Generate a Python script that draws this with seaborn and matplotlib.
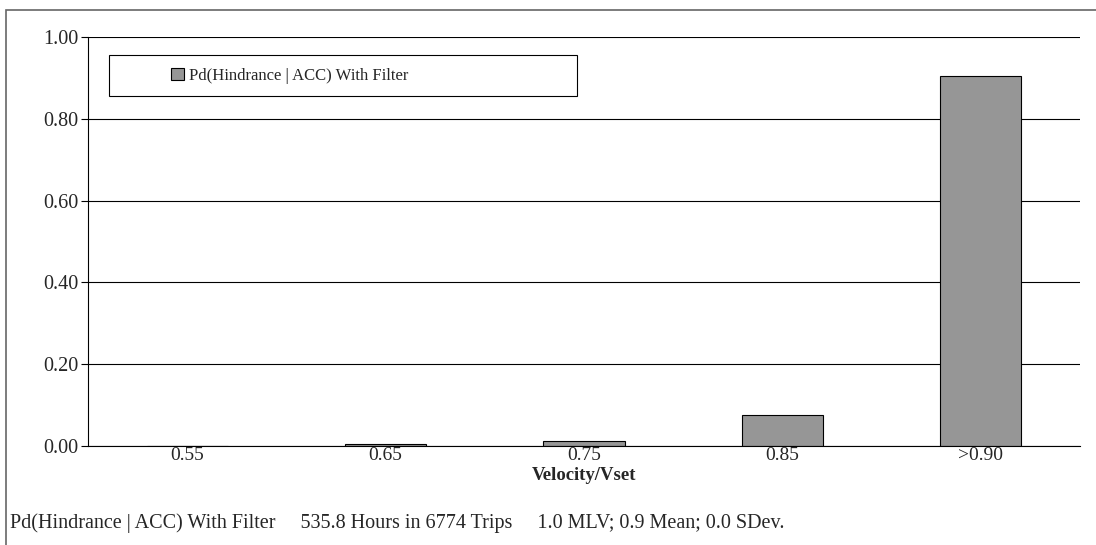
import matplotlib
matplotlib.use("Agg")
import matplotlib.pyplot as plt
import matplotlib.patches as mpatches
import seaborn as sns
import pandas as pd

categories = ["0.55", "0.65", "0.75", "0.85", ">0.90"]
values = [0.0, 0.006, 0.012, 0.075, 0.905]
series_name = "Pd(Hindrance | ACC) With Filter"
y_ticks = [0.0, 0.2, 0.4, 0.6, 0.8, 1.0]
footnote = "Pd(Hindrance | ACC) With Filter     535.8 Hours in 6774 Trips     1.0 MLV; 0.9 Mean; 0.0 SDev."

df = pd.DataFrame({"cat": categories, "val": values})

sns.set_style("white")
plt.rcParams["font.family"] = ["Liberation Serif", "DejaVu Serif"]

W, H = 1096, 545
fig = plt.figure(figsize=(W / 100, H / 100), dpi=100)
ax = fig.add_axes([88 / W, (H - 446) / H, (1080 - 88) / W, (446 - 37) / H])

sns.barplot(data=df, x="cat", y="val", color="#969696", saturation=1,
            width=0.41, edgecolor="black", linewidth=0.8, ax=ax)

ax.set_ylim(0, 1.0)
ax.set_xlim(-0.5, 4.5)
ax.set_yticks(y_ticks)
ax.set_yticklabels([f"{v:.2f}" for v in y_ticks], fontsize=14.5)
ax.yaxis.grid(True, color="black", linewidth=0.8)
ax.set_axisbelow(True)

# category boundaries get the tick marks, labels sit in between
ax.set_xticks([i - 0.5 for i in range(len(categories) + 1)])
ax.set_xticklabels([])
ax.set_xticks(range(len(categories)), minor=True)
ax.set_xticklabels(categories, minor=True, fontsize=14)
ax.tick_params(axis="x", which="major", direction="inout", length=10, width=0.8, color="black")
ax.tick_params(axis="x", which="minor", length=0, pad=1)
ax.tick_params(axis="y", direction="out", length=5, width=0.8, color="black", left=True, pad=2)

ax.set_xlabel("")
ax.set_ylabel("")
fig.text(584 / W, (H - 475) / H, "Velocity/Vset", fontsize=13.5, fontweight="bold",
         ha="center", va="center")
for s in ["top", "right"]:
    ax.spines[s].set_visible(False)
for s in ["left", "bottom"]:
    ax.spines[s].set_color("black")
    ax.spines[s].set_linewidth(0.8)

# legend box
fig.patches.append(mpatches.Rectangle((109 / W, (H - 96) / H), (577 - 109) / W, 41 / H,
                                      transform=fig.transFigure, facecolor="white",
                                      edgecolor="black", linewidth=0.8, zorder=5))
handle = mpatches.Patch(facecolor="#969696", edgecolor="black", linewidth=0.8, label=series_name)
leg = fig.legend(handles=[handle], loc="center left", bbox_to_anchor=(163 / W, (H - 75.5) / H),
                 frameon=False, fontsize=12, handlelength=0.75, handleheight=0.75,
                 handletextpad=0.3, borderpad=0)
leg.set_zorder(6)

# outer frame of the chart area
fig.patches.append(mpatches.Rectangle((6 / W, -0.1), 1.2, 1.1 - 10 / H,
                                      transform=fig.transFigure, facecolor="none",
                                      edgecolor="#666666", linewidth=1.2))

fig.text(10 / W, (H - 523) / H, footnote, fontsize=14.5, va="center", ha="left")

fig.savefig("out.png", dpi=100)
